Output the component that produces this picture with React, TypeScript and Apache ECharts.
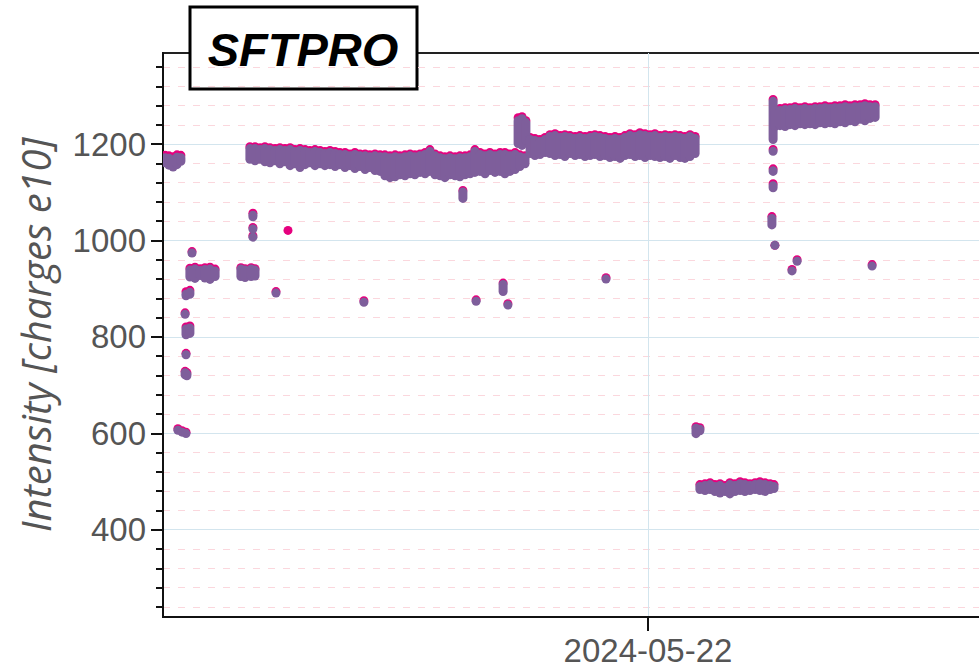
import React, { useEffect, useRef } from "react";
import * as echarts from "echarts";

// time: hours after 2024-05-15 00:00 ; values: [hour, purpleLow, purpleHigh, pinkHigh]
const firstBlock = [
  [7.0, 1152, 1181, 1186], [8.3, 1147, 1180, 1185], [9.7, 1143, 1177, 1183],
  [11.0, 1148, 1182, 1187], [12.3, 1155, 1181, 1186],
];

const rampUpPoints = [
  [11.3, 600, 613, 616], [12.7, 594, 611, 614], [14.0, 592, 607, 610],
  [13.7, 712, 735, 738], [14.3, 710, 732, 735],
  [14.0, 760, 766, 769],
  [14.0, 795, 826, 830], [15.3, 798, 828, 832],
  [13.7, 842, 852, 855],
  [14.0, 876, 898, 903], [15.3, 879, 902, 906],
  [16.0, 966, 982, 985],
  [15.3, 915, 948, 952], [17.0, 912, 950, 954], [18.7, 918, 947, 951],
  [20.3, 913, 949, 953], [22.0, 910, 950, 954], [23.7, 916, 946, 950],
  [32.3, 916, 950, 953], [33.7, 914, 948, 951],
  [35.7, 916, 950, 953], [37.0, 917, 948, 951],
  [36.3, 1040, 1062, 1066], [36.3, 1024, 1024, 1027], [36.3, 1007, 1007, 1010],
];

const longBlock = [
  [35.3, 1159, 1200, 1204], [37.0, 1156, 1200, 1204], [38.7, 1159, 1198, 1202],
  [40.3, 1154, 1200, 1204], [42.0, 1152, 1198, 1202], [43.7, 1156, 1196, 1200],
  [45.3, 1150, 1198, 1202], [47.0, 1154, 1196, 1200], [48.7, 1146, 1198, 1202],
  [50.3, 1150, 1194, 1198], [52.0, 1142, 1196, 1200], [53.7, 1148, 1194, 1198],
  [55.3, 1152, 1192, 1196], [57.0, 1146, 1194, 1198], [58.7, 1150, 1192, 1196],
  [60.3, 1146, 1190, 1194], [62.0, 1148, 1192, 1196], [63.7, 1144, 1190, 1194],
  [65.3, 1148, 1188, 1192], [67.0, 1142, 1188, 1192], [68.7, 1146, 1185, 1189],
  [70.3, 1140, 1188, 1192], [72.0, 1144, 1185, 1189], [73.7, 1138, 1185, 1189],
  [75.3, 1142, 1183, 1187], [77.0, 1136, 1185, 1189], [78.7, 1134, 1183, 1187],
  [80.3, 1125, 1183, 1187], [82.0, 1121, 1181, 1185], [83.7, 1123, 1183, 1187],
  [85.3, 1127, 1181, 1185], [87.0, 1125, 1183, 1187], [88.7, 1129, 1185, 1189],
  [90.3, 1127, 1183, 1187], [92.0, 1132, 1185, 1189], [93.7, 1129, 1188, 1192],
  [95.3, 1134, 1194, 1198], [97.0, 1127, 1185, 1189], [98.7, 1125, 1181, 1185],
  [100.3, 1121, 1179, 1183], [102.0, 1127, 1181, 1185], [103.7, 1125, 1179, 1183],
  [105.3, 1123, 1181, 1185], [107.0, 1127, 1181, 1185], [108.7, 1129, 1183, 1187],
  [110.3, 1132, 1194, 1198], [112.0, 1134, 1188, 1192], [113.7, 1129, 1185, 1189],
  [115.3, 1136, 1188, 1192], [117.0, 1132, 1185, 1189], [118.7, 1134, 1188, 1192],
  [120.3, 1129, 1188, 1192], [122.0, 1134, 1185, 1189], [123.7, 1138, 1188, 1192],
  [125.3, 1144, 1183, 1187], [127.0, 1150, 1181, 1185],
];

const stepBlocks = [
  [124.7, 1192, 1258, 1264], [126.0, 1188, 1262, 1266], [127.3, 1198, 1254, 1258],
  [128.7, 1171, 1219, 1223], [130.3, 1167, 1217, 1221],
  [132.0, 1169, 1215, 1219], [133.7, 1173, 1219, 1223],
];

const plateau1220 = [
  [135.3, 1171, 1225, 1229], [137.0, 1167, 1227, 1231], [138.7, 1169, 1223, 1227],
  [140.3, 1165, 1225, 1229], [142.0, 1171, 1223, 1227], [143.7, 1167, 1221, 1225],
  [145.3, 1169, 1223, 1227], [147.0, 1165, 1221, 1225], [148.7, 1167, 1223, 1227],
  [150.3, 1169, 1225, 1229], [152.0, 1165, 1223, 1227], [153.7, 1167, 1221, 1225],
  [155.3, 1163, 1219, 1223], [157.0, 1165, 1221, 1225], [158.7, 1161, 1219, 1223],
  [160.3, 1167, 1223, 1227], [162.0, 1169, 1227, 1231], [163.7, 1165, 1225, 1229],
  [165.3, 1167, 1229, 1233], [167.0, 1163, 1227, 1231], [168.7, 1167, 1225, 1229],
  [170.3, 1165, 1227, 1231], [172.0, 1163, 1223, 1227], [173.7, 1165, 1225, 1229],
  [175.3, 1161, 1223, 1227], [177.0, 1167, 1225, 1229], [178.7, 1163, 1223, 1227],
  [180.3, 1161, 1221, 1225], [182.0, 1165, 1225, 1229], [183.7, 1171, 1221, 1225],
];

const plateau485 = [
  [184.0, 590, 620, 623], [185.3, 596, 618, 621],
  [185.3, 474, 499, 503], [187.0, 472, 501, 505], [188.7, 474, 503, 507],
  [190.3, 470, 499, 503], [192.0, 467, 501, 505], [193.7, 470, 497, 501],
  [195.3, 465, 503, 507], [197.0, 470, 501, 505], [198.7, 472, 505, 509],
  [200.3, 470, 503, 507], [202.0, 472, 501, 505], [203.7, 474, 503, 507],
  [205.3, 472, 505, 509], [207.0, 470, 503, 507], [208.7, 474, 501, 505],
  [210.0, 476, 499, 503],
];

const plateau1260 = [
  [209.7, 1200, 1298, 1302], [209.7, 1178, 1192, 1196], [209.7, 1134, 1154, 1158],
  [209.7, 1100, 1123, 1127], [209.3, 1023, 1055, 1059], [210.3, 990, 990, 990],
  [210.3, 1227, 1279, 1283], [212.0, 1229, 1279, 1283], [213.7, 1227, 1281, 1285],
  [215.3, 1231, 1281, 1285], [217.0, 1229, 1283, 1287], [218.7, 1233, 1281, 1285],
  [220.3, 1231, 1283, 1287], [222.0, 1233, 1281, 1285], [223.7, 1231, 1283, 1287],
  [225.3, 1235, 1283, 1287], [227.0, 1233, 1285, 1289], [228.7, 1235, 1283, 1287],
  [230.3, 1233, 1285, 1289], [232.0, 1237, 1285, 1289], [233.7, 1235, 1287, 1291],
  [235.3, 1239, 1285, 1289], [237.0, 1237, 1287, 1291], [238.7, 1242, 1287, 1291],
  [240.3, 1239, 1289, 1293], [242.0, 1244, 1287, 1291], [243.7, 1246, 1287, 1291],
];

const outliers = [
  [44.0, 891, 891, 894], [73.3, 872, 872, 875], [106.3, 1078, 1110, 1113],
  [110.7, 874, 874, 877], [119.7, 885, 918, 921], [121.3, 866, 866, 869],
  [154.0, 920, 920, 923], [216.0, 937, 937, 940], [217.7, 957, 957, 960],
  [242.7, 947, 947, 950],
];

const pinkOnly = [[48.0, 1021]];

const majorTicks = [400, 600, 800, 1000, 1200];
const minorTicks = [240, 280, 320, 360, 440, 480, 520, 560, 640, 680, 720, 760, 840, 880, 920, 960, 1040, 1080, 1120, 1160, 1240, 1280, 1320, 1360];
const dateTicks = ["2024-05-22"];

const BASE = new Date(2024, 4, 15, 0, 0, 0).getTime();
const HOUR = 3600 * 1000;
const PURPLE = "#7e5e9b";
const PINK = "#e6007e";

function pad(n: number) {
  return n < 10 ? "0" + n : String(n);
}
function fmtDate(v: number) {
  const d = new Date(v);
  return d.getFullYear() + "-" + pad(d.getMonth() + 1) + "-" + pad(d.getDate());
}

export default function App() {
  const ref = useRef<HTMLDivElement>(null);
  useEffect(() => {
    if (!ref.current) return;
    const chart = echarts.init(ref.current, undefined, { renderer: "svg" });
    const all = [
      ...firstBlock, ...rampUpPoints, ...longBlock, ...stepBlocks,
      ...plateau1220, ...plateau485, ...plateau1260, ...outliers,
    ];
    // rows: [time, low, high, pinkHigh]
    const pinkData = [
      ...all.map((d) => [BASE + d[0] * HOUR, d[1], d[2], d[3]]),
      ...pinkOnly.map((d) => [BASE + d[0] * HOUR, d[1], d[1], d[1]]),
    ];
    const purpleData = all.map((d) => [BASE + d[0] * HOUR, d[1], d[2], d[2]]);
    const W = 9;
    const makeRender = (color: string, isPink: boolean) => (params: any, api: any) => {
      const t = api.value(0);
      const top = api.coord([t, api.value(2)]);
      const bot = api.coord([t, api.value(1)]);
      const pinkTop = api.coord([t, api.value(3)]);
      let y0 = top[1];
      let y1 = bot[1];
      if (y1 - y0 < W) {
        const c = (y0 + y1) / 2;
        y0 = c - W / 2;
        y1 = c + W / 2;
      }
      if (isPink) {
        const off = Math.max(0, top[1] - pinkTop[1]);
        y1 = Math.min(y1, y0 + W) - off;
        y0 = y0 - off;
      }
      return {
        type: "rect",
        shape: { x: top[0] - W / 2, y: y0, width: W, height: y1 - y0, r: W / 2 },
        style: { fill: color },
      };
    };
    const dateValues = dateTicks.map((s) => {
      const [y, m, d] = s.split("-").map(Number);
      return new Date(y, m - 1, d, 0, 0, 0).getTime();
    });
    const labelFont = { fontFamily: "Liberation Sans, Arial, sans-serif", fontSize: 33, color: "#555" };
    chart.setOption({
      animation: false,
      grid: {
        left: 163, right: 37, top: 53, bottom: 52,
        show: true, borderColor: "#222", borderWidth: 2, backgroundColor: "transparent",
      },
      xAxis: {
        type: "value",
        min: BASE + (19 / 3) * HOUR,
        max: BASE + (919 / 3) * HOUR,
        axisLine: { show: true, lineStyle: { color: "#111", width: 2 } },
        axisTick: { show: true, length: 14, customValues: dateValues, lineStyle: { color: "#111", width: 2 } },
        axisLabel: { ...labelFont, margin: 17, customValues: dateValues, formatter: (v: number) => fmtDate(v) },
        splitLine: { show: true, lineStyle: { color: "#d3e5ee", width: 1 } },
      },
      yAxis: [
        {
          type: "value", min: 219, max: 1389, position: "left",
          name: "Intensity [charges e10]",
          nameLocation: "middle", nameRotate: 90, nameGap: 108,
          nameTextStyle: { fontFamily: "Open Sans, sans-serif", fontStyle: "italic", fontSize: 40, color: "#555" },
          axisLine: { show: true, lineStyle: { color: "#111", width: 2 } },
          axisTick: { show: true, length: 12, customValues: majorTicks, lineStyle: { color: "#111", width: 2 } },
          axisLabel: { ...labelFont, margin: 17, customValues: majorTicks, formatter: (v: number) => String(v) },
          splitLine: { show: true, lineStyle: { color: "#d3e5ee", width: 1 } },
        },
        {
          type: "value", min: 219, max: 1389, position: "left", offset: 0,
          axisLine: { show: false },
          axisTick: { show: true, length: 7, customValues: minorTicks, lineStyle: { color: "#111", width: 2 } },
          axisLabel: { show: false },
          splitLine: { show: true, lineStyle: { color: "#fbd7dd", width: 1, type: [7, 8] } },
        },
      ],
      series: [
        {
          type: "custom", name: "pink", clip: true, yAxisIndex: 0,
          renderItem: makeRender(PINK, true), data: pinkData,
          encode: { x: 0, y: [1, 3] }, z: 3,
        },
        {
          type: "custom", name: "purple", clip: true, yAxisIndex: 0,
          renderItem: makeRender(PURPLE, false), data: purpleData,
          encode: { x: 0, y: [1, 2] }, z: 4,
        },
      ],
      graphic: [
        {
          type: "group", z: 100,
          children: [
            { type: "rect", shape: { x: 190, y: 7, width: 227, height: 82 }, style: { fill: "#fff", stroke: "#000", lineWidth: 3 } },
            {
              type: "text", x: 303, y: 49,
              style: {
                text: "SFTPRO", fill: "#000", fontSize: 47, fontWeight: "bold", fontStyle: "italic",
                fontFamily: "Liberation Sans, Arial, sans-serif", align: "center", verticalAlign: "middle",
              },
            },
          ],
        },
      ],
    });
    return () => chart.dispose();
  }, []);
  return (
    <div style={{ position: "fixed", left: 0, top: 0, width: 979, height: 669, overflow: "hidden", background: "#fff" }}>
      <div ref={ref} style={{ width: 1100, height: 669 }} />
    </div>
  );
}
